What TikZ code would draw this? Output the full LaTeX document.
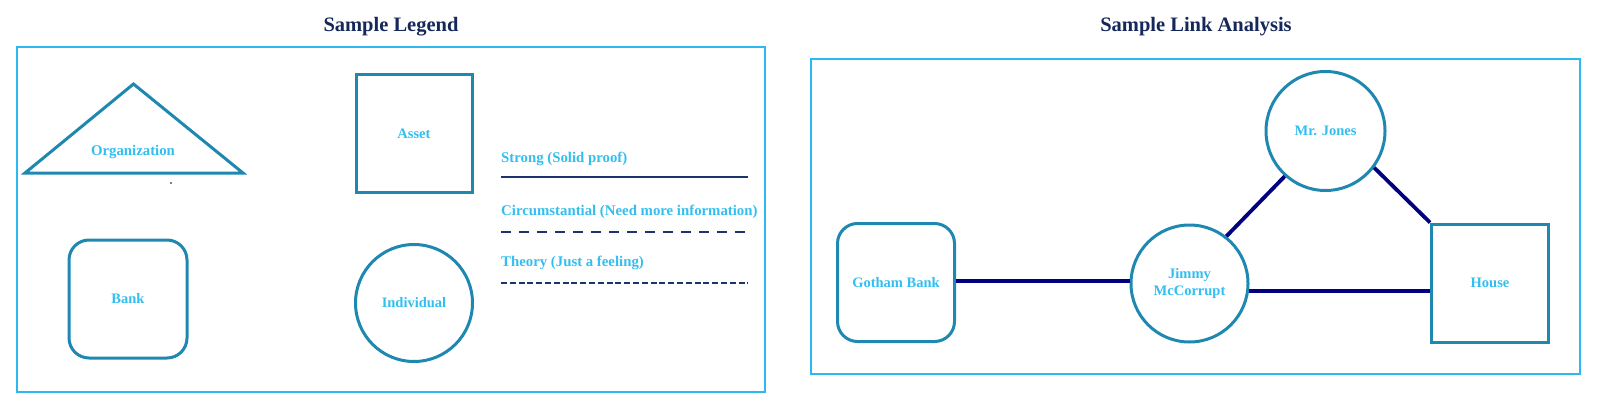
\documentclass[tikz,border=0pt]{standalone}
\usepackage{fontspec}
\setmainfont{Liberation Serif}
\newfontfamily\lblfont{Liberation Serif}
\definecolor{framec}{RGB}{45,185,240}
\definecolor{shapec}{RGB}{30,136,176}
\definecolor{textc}{RGB}{50,190,240}
\definecolor{titlec}{RGB}{22,40,90}
\definecolor{legc}{RGB}{28,52,110}
\definecolor{linkc}{RGB}{0,0,128}
\tikzset{
  frame/.style={draw=framec,line width=2pt},
  shp/.style={draw=shapec,line width=3pt,text=textc,font=\lblfont\bfseries\fontsize{14.5}{16.5}\selectfont,align=center,inner sep=0pt},
  lbl/.style={text=textc,font=\lblfont\bfseries\fontsize{14.8}{16}\selectfont,inner sep=0pt},
  ttl/.style={text=titlec,font=\bfseries\fontsize{20.5}{22}\selectfont,inner sep=0pt},
  leg/.style={draw=legc,line width=2.8pt},
  link/.style={draw=linkc,line width=3.8pt},
}
\begin{document}
\begin{tikzpicture}[x=1pt,y=-1pt]
\useasboundingbox (0,0) rectangle (1598,412);
% frames
\draw[frame] (17,47) rectangle (765,392);
\draw[frame] (811,59) rectangle (1580,374);
\node[ttl] (t1) at (391,27) {Sample Legend};
\node[ttl] (t2) at (1196,27) {Sample Link Analysis};
% legend shapes
\coordinate (ta) at (133.5,84);
\coordinate (tl) at (25,173);
\coordinate (tr) at (243,173);
\draw[shapec,line width=3pt,line join=miter] (ta) -- (tl) -- (tr) -- cycle;
\node[lbl] (org) at (133,152) {Organization};
\fill[black] (171,183) circle (0.8);
\node[shp,rectangle,minimum width=116pt,minimum height=117pt] (asset) at (414,133.5) {Asset};
\node[shp,rectangle,rounded corners=20pt,minimum width=118pt,minimum height=118pt] (bank) at (128,299) {Bank};
\node[shp,circle,minimum size=117pt] (indiv) at (414,303) {Individual};
% legend lines
\node[lbl,anchor=west] (strong) at (501,159) {Strong (Solid proof)};
\coordinate (s1) at (501,177); \coordinate (s2) at (748,177);
\draw[leg] (s1) -- (s2);
\node[lbl,anchor=west] (circ) at (501,212) {Circumstantial (Need more information)};
\coordinate (c1) at (501,232); \coordinate (c2) at (745,232);
\draw[leg,dash pattern=on 10pt off 8pt] (c1) -- (c2);
\node[lbl,anchor=west] (theo) at (501,263) {Theory (Just a feeling)};
\coordinate (h1) at (501,283); \coordinate (h2) at (748,283);
\draw[leg,dash pattern=on 6pt off 2.8pt] (h1) -- (h2);
% link analysis
\node[shp,circle,minimum size=119pt] (jones) at (1325.5,131) {Mr. Jones};
\node[shp,circle,minimum size=117pt] (jimmy) at (1189.5,283.5) {Jimmy\\McCorrupt};
\node[shp,rectangle,rounded corners=20pt,minimum width=117pt,minimum height=118pt] (gotham) at (896,282.5) {Gotham Bank};
\node[shp,rectangle,minimum width=117pt,minimum height=118pt] (house) at (1490,283) {House};
\draw[link] (gotham.east |- 0,281) -- (jimmy.west |- 0,281);
\draw[link] (jimmy.-7) -- (house.west |- jimmy.-7);
\draw[link] (jones.228.5) -- (jimmy.52.6);
\draw[link] (jones.-37) -- (house.north west);
\end{tikzpicture}
\end{document}
